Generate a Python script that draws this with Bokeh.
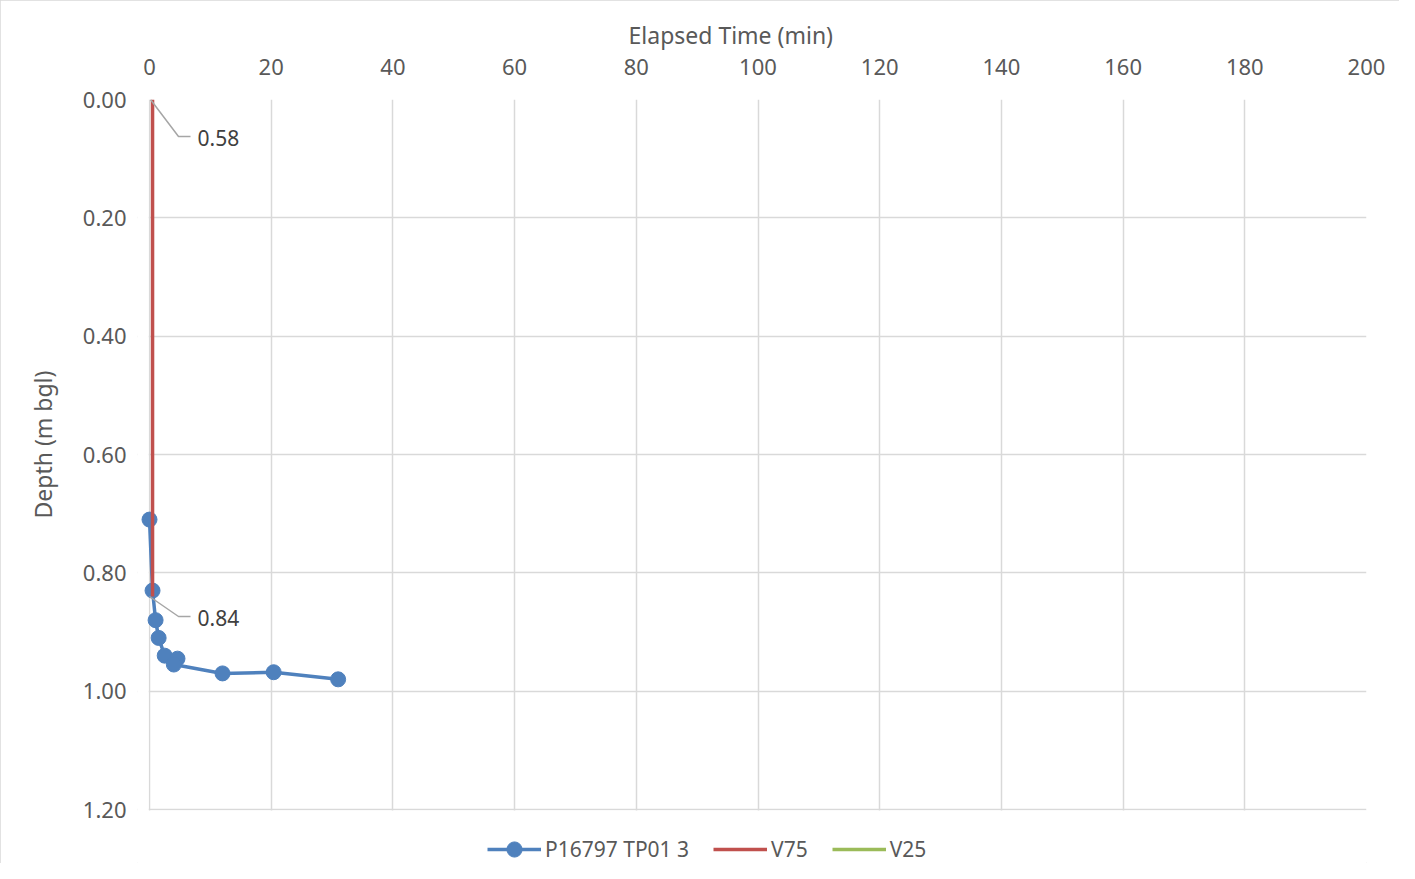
from bokeh.plotting import figure
from bokeh.models import (Label, Legend, LegendItem, FixedTicker, ColumnDataSource,
                          BoxAnnotation, Range1d, Title)
from bokeh.embed import file_html
from bokeh.resources import INLINE

nan = float("nan")
# ---- data ----
elapsed_min = [0.0, 0.5, 1.0, 1.5, 2.5, 4.6, 4.0, 12.0, 20.4, 31.0]
depth_m = [0.71, 0.83, 0.88, 0.91, 0.94, 0.945, 0.955, 0.97, 0.968, 0.98]
v75_time = [0.5, 0.5]
v75_depth = [0.0, 0.84]
v25_time = [nan, nan]
v25_depth = [nan, nan]
label_texts = ["0.58", "0.84"]
label_anchor_depth = [0.0, 0.84]
x_ticks = [0, 20, 40, 60, 80, 100, 120, 140, 160, 180, 200]
y_ticks = [0.0, 0.2, 0.4, 0.6, 0.8, 1.0, 1.2]
y_tick_labels = ["0.00", "0.20", "0.40", "0.60", "0.80", "1.00", "1.20"]
series_names = ["P16797 TP01 3", "V75", "V25"]
cut_title = "water during the test and the test duration."

FONT = "Noto Sans"
TXT = "#595959"
GRID = "#d9d9d9"

W, H = 1399, 863
X0_PX, X1_PX = 149, 1366            # pixel columns of 0 and 200 min
Y0_PX, Y1_PX = 99, 809              # pixel rows of depth 0.00 and 1.20
PAD_L = 12                          # frame extends a little left of x=0 so markers are not clipped
ppy = (Y1_PX - Y0_PX) / 1.2
ppx = (X1_PX - X0_PX) / 200.0
y_max = 1.2 + (H - Y1_PX) / ppy     # frame extends to canvas bottom (room for legend)
x_min = -PAD_L / ppx
FL = X0_PX - PAD_L

p = figure(width=W, height=H, output_backend="svg", toolbar_location=None,
           x_range=Range1d(x_min, 200), y_range=Range1d(y_max, 0.0),
           x_axis_location="above")
p.min_border_left = FL
p.min_border_right = W - X1_PX
p.min_border_top = Y0_PX
p.min_border_bottom = 0
p.outline_line_color = None
p.background_fill_color = "white"
p.border_fill_color = "white"
p.styles = {"outline": "1.5px solid #d9d9d9", "outline-offset": "-1.5px"}

# axes
p.xaxis.ticker = FixedTicker(ticks=x_ticks)
p.yaxis.ticker = FixedTicker(ticks=y_ticks)
p.yaxis.major_label_overrides = {t: l for t, l in zip(y_ticks, y_tick_labels)}
p.yaxis.bounds = (0, 1.2)
p.xaxis.bounds = (0, 200)
for ax in (p.xaxis[0], p.yaxis[0]):
    ax.axis_line_color = None
    ax.major_tick_line_color = None
    ax.minor_tick_line_color = None
    ax.major_label_text_font = FONT
    ax.major_label_text_font_size = "22px"
    ax.major_label_text_color = TXT
p.xaxis.major_label_standoff = 19
p.yaxis.major_label_standoff = 17 - PAD_L
p.xgrid.grid_line_color = GRID
p.ygrid.grid_line_color = GRID
p.xgrid.grid_line_width = 1.5
p.ygrid.grid_line_width = 1.5

# mask the horizontal grid lines left of x=0 (drawn under the glyphs)
p.add_layout(BoxAnnotation(right=0 - 0.8 / ppx, fill_color="white", fill_alpha=1,
                           line_alpha=0, level="underlay"))

# axis titles
p.add_layout(Title(text="Elapsed Time (min)", align="left",
                   offset=628 - FL, standoff=9,
                   text_font=FONT, text_font_size="23px", text_font_style="normal",
                   text_color=TXT), "above")
p.add_layout(Title(text="Depth (m bgl)", align="left",
                   offset=H - 518, standoff=42,
                   text_font=FONT, text_font_size="23px", text_font_style="normal",
                   text_color=TXT), "left")

# series
src = ColumnDataSource(dict(t=elapsed_min, d=depth_m))
blue = "#4F81BD"
l1 = p.line("t", "d", source=src, line_color=blue, line_width=3.5)
c1 = p.scatter("t", "d", source=src, size=15, fill_color=blue, line_color=blue)
l2 = p.line(v75_time, v75_depth, line_color="#C0504D", line_width=3.5)
l3 = p.line(v25_time, v25_depth, line_color="#9BBB59", line_width=3.5)

# data labels with leader lines
leader_offsets = [[(1, 0), (29, 37), (41, 37)], [(0, 0), (29, 20), (41, 20)]]
for txt, dep, offs in zip(label_texts, label_anchor_depth, leader_offsets):
    xs = [dx / ppx for dx, dy in offs]
    ys = [dep + dy / ppy for dx, dy in offs]
    p.line(xs, ys, line_color="#a6a6a6", line_width=1.5)
    p.add_layout(Label(x=(offs[-1][0] + 7) / ppx, y=dep + (offs[-1][1] + 1) / ppy,
                       text=txt, text_font=FONT, text_font_size="21px",
                       text_color="#404040", text_baseline="middle"))

# white mask below the 1.20 line (legend area)
p.add_layout(BoxAnnotation(top=1.2 + 1.0 / ppy, bottom=y_max, fill_color="white",
                           fill_alpha=1, line_alpha=0))

# title text cut by the top edge of the picture (as in the reference)
p.add_layout(Label(x=531, y=3, x_units="canvas", y_units="canvas",
                   text=cut_title, text_font=FONT, text_font_size="23px",
                   text_color="#000000", text_align="center", text_baseline="alphabetic"))

# legend
legend = Legend(items=[LegendItem(label=series_names[0], renderers=[l1, c1]),
                       LegendItem(label=series_names[1], renderers=[l2]),
                       LegendItem(label=series_names[2], renderers=[l3])],
                orientation="horizontal", location=(487 - FL, -5),
                label_text_font=FONT, label_text_font_size="21px",
                label_text_color=TXT, glyph_width=54, glyph_height=38,
                label_standoff=4, spacing=24, padding=0, margin=0,
                background_fill_alpha=0, border_line_color=None)
p.add_layout(legend, "center")

open("out.html", "w").write(file_html(p, INLINE))
